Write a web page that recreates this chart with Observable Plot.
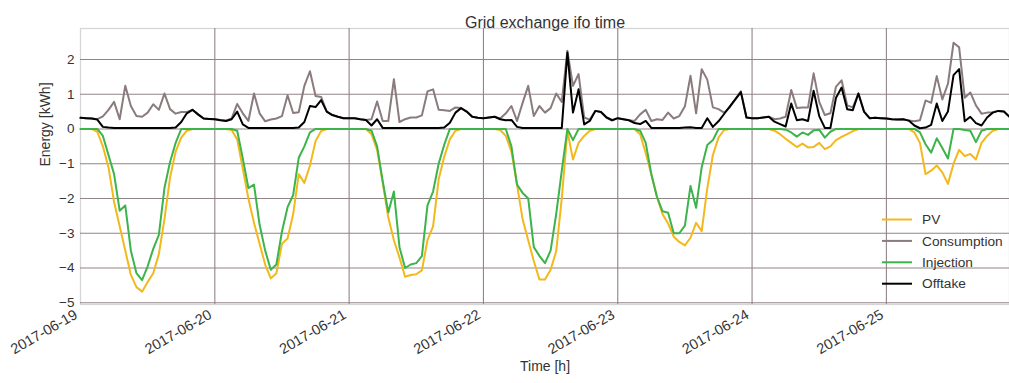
<!DOCTYPE html>
<html>
<head>
<meta charset="utf-8">
<script src="https://cdn.jsdelivr.net/npm/d3@7"></script>
<script src="https://cdn.jsdelivr.net/npm/@observablehq/plot@0.6"></script>
<style>
  body { margin: 0; background: #fff; }
  #chart { width: 1009px; height: 383px; }
</style>
</head>
<body>
<div id="chart"></div>
<script>
// Hourly energy readings (kWh), 2017-06-19 00:00 UTC onward, one row per day.
const pv = [
  0,0,0,-0.08,-0.5,-1.1,-2.1,-2.8,-3.5,-4.2,-4.55,-4.68,-4.4,-4.15,-3.6,-2.6,-1.4,-0.65,-0.25,-0.05,0,0,0,0,
  0,0,0,-0.03,-0.3,-1.15,-2.0,-2.7,-3.3,-3.9,-4.3,-4.15,-3.3,-3.15,-2.45,-1.3,-1.55,-1.05,-0.35,-0.06,0,0,0,0,
  0,0,0,0,-0.15,-0.6,-1.55,-2.55,-3.2,-3.7,-4.25,-4.2,-4.18,-4.07,-3.2,-2.8,-1.45,-0.8,-0.3,-0.05,0,0,0,0,
  0,0,0,-0.03,-0.2,-0.65,-1.6,-2.6,-3.2,-3.8,-4.33,-4.33,-4.05,-3.52,-2.0,-0.06,-0.88,-0.4,-0.2,-0.05,0,0,0,0,
  0,0,0,0,-0.15,-0.7,-1.3,-1.95,-2.45,-2.72,-3.1,-3.25,-3.35,-3.13,-2.7,-2.94,-1.7,-0.75,-0.25,-0.03,0,0,0,0,
  0,0,0,0,-0.05,-0.15,-0.28,-0.4,-0.52,-0.42,-0.53,-0.52,-0.4,-0.58,-0.5,-0.32,-0.23,-0.15,-0.06,0,0,0,0,0,
  0,0,0,0,0,-0.1,-0.4,-1.3,-1.2,-1.05,-1.25,-1.58,-1.0,-0.6,-0.78,-0.72,-0.88,-0.4,-0.2,-0.05,0,0,0
];
const consumption = [
  0.32,0.31,0.30,0.28,0.36,0.55,0.78,0.28,1.24,0.66,0.37,0.35,0.47,0.71,0.55,1.02,0.57,0.44,0.49,0.49,0.55,0.42,0.30,0.29,
  0.28,0.26,0.24,0.30,0.72,0.45,0.23,1.02,0.45,0.22,0.27,0.30,0.37,0.97,0.46,0.48,1.24,1.66,0.95,0.92,0.50,0.40,0.35,0.31,
  0.31,0.31,0.28,0.26,0.28,0.79,0.23,0.23,1.43,0.20,0.28,0.33,0.33,0.39,1.08,1.14,0.55,0.54,0.52,0.62,0.60,0.50,0.35,0.32,
  0.31,0.33,0.35,0.30,0.45,0.66,0.23,0.75,1.24,0.37,0.66,0.47,0.60,1.02,0.78,2.25,1.24,1.58,0.33,0.27,0.52,0.49,0.33,0.25,
  0.31,0.28,0.25,0.23,0.42,0.55,0.23,0.28,0.26,0.47,0.30,0.37,0.65,1.53,0.45,1.72,1.42,0.62,0.57,0.47,0.62,0.85,1.08,0.33,
  0.31,0.31,0.33,0.35,0.28,0.30,0.35,1.12,0.60,0.62,0.62,1.60,0.78,0.40,0.45,1.22,1.40,0.68,0.62,1.02,0.50,0.31,0.32,0.31,
  0.30,0.28,0.27,0.28,0.24,0.22,0.25,0.82,0.75,1.52,0.85,1.30,2.48,2.35,0.90,1.05,0.68,0.44,0.47,0.48,0.52,0.50,0.35
];
const injection = [
  0,0,0,0,-0.2,-0.75,-1.3,-2.35,-2.2,-3.5,-4.15,-4.35,-3.95,-3.45,-3.05,-1.7,-0.95,-0.4,0,0,0,0,0,0,
  0,0,0,0,-0.05,-0.85,-1.7,-1.6,-2.75,-3.5,-4.05,-3.9,-2.95,-2.25,-1.9,-0.83,-0.5,-0.1,0,0,0,0,0,0,
  0,0,0,0,-0.05,-0.5,-1.5,-2.4,-1.8,-3.4,-4.0,-3.9,-3.86,-3.66,-2.2,-1.8,-1.0,-0.45,0,0,0,0,0,0,
  0,0,0,0,0,-0.5,-1.6,-1.84,-2.0,-3.4,-3.65,-3.86,-3.5,-2.45,-1.2,0,-0.32,0,0,0,0,0,0,0,
  0,0,0,0,-0.05,-0.4,-1.3,-1.95,-2.37,-2.41,-3.0,-3.0,-2.78,-1.64,-2.27,-1.1,-0.46,-0.32,0,0,0,0,0,0,
  0,0,0,0,0,0,-0.02,-0.1,-0.22,-0.1,-0.17,-0.04,-0.02,-0.25,-0.08,0,0,0,0,0,0,0,0,0,
  0,0,0,0,0,0,-0.1,-0.44,-0.68,-0.27,-0.55,-0.85,0,0,-0.03,-0.05,-0.38,-0.05,0,0,0,0,0
];
const offtake = [
  0.32,0.31,0.30,0.27,0.06,0.04,0.03,0.03,0.03,0.03,0.03,0.03,0.03,0.03,0.03,0.03,0.03,0.04,0.20,0.45,0.55,0.42,0.30,0.29,
  0.28,0.25,0.23,0.28,0.50,0.13,0.03,0.03,0.03,0.03,0.03,0.03,0.03,0.03,0.03,0.04,0.20,0.66,0.63,0.83,0.50,0.40,0.35,0.31,
  0.31,0.31,0.28,0.26,0.10,0.28,0.03,0.03,0.03,0.03,0.03,0.03,0.03,0.03,0.03,0.03,0.03,0.04,0.18,0.47,0.60,0.50,0.35,0.32,
  0.31,0.33,0.35,0.28,0.25,0.26,0.06,0.03,0.03,0.03,0.03,0.03,0.03,0.03,0.03,2.20,0.47,1.14,0.13,0.23,0.52,0.49,0.33,0.25,
  0.31,0.28,0.25,0.17,0.14,0.23,0.03,0.03,0.03,0.03,0.03,0.03,0.04,0.05,0.03,0.03,0.31,0.06,0.22,0.43,0.64,0.85,1.06,0.33,
  0.31,0.31,0.33,0.35,0.21,0.14,0.07,0.73,0.25,0.28,0.23,1.10,0.37,0.03,0.03,0.90,1.19,0.57,0.54,1.02,0.50,0.31,0.32,0.31,
  0.30,0.28,0.27,0.28,0.24,0.10,0.02,0.04,0.12,0.73,0.23,0.50,1.55,1.72,0.22,0.35,0.17,0.10,0.33,0.47,0.52,0.50,0.35
];

const dayLabels = ["2017-06-19","2017-06-20","2017-06-21","2017-06-22","2017-06-23","2017-06-24","2017-06-25"];
const yTicks = [-5,-4,-3,-2,-1,0,1,2];
const seriesNames = ["PV","Consumption","Injection","Offtake"];
const seriesColors = ["#f2b81c","#8a7b7d","#3cb44b","#000000"];

const FONT = "'Liberation Sans', Arial, sans-serif";
const GRID = "#928486";
const TEXT = "#333333";

const start = new Date(dayLabels[0] + "T00:00:00Z");
const times = pv.map((_, i) => new Date(+start + i * 3600e3));
const dayTicks = dayLabels.map(s => new Date(s + "T00:00:00Z"));

const seriesValues = [pv, consumption, injection, offtake];
const lines = seriesNames.map((name, k) =>
  Plot.lineY(seriesValues[k].map((v, i) => ({t: times[i], v})), {
    x: "t", y: "v", stroke: seriesColors[k], strokeWidth: 2,
    strokeLinejoin: "round", strokeLinecap: "round"
  })
);

const chart = Plot.plot({
  width: 1009,
  height: 383,
  marginTop: 28,
  marginRight: 0,
  marginBottom: 79,
  marginLeft: 80,
  style: {fontFamily: FONT, background: "#fff", color: TEXT, overflow: "visible"},
  x: {type: "utc", domain: [times[0], times[times.length - 1]], axis: null},
  y: {domain: [-5.05, 2.89], axis: null},
  marks: [
    Plot.frame({stroke: "#d6d6d6", strokeWidth: 1.3}),
    Plot.gridX(dayTicks.slice(1), {stroke: GRID, strokeOpacity: 1, strokeWidth: 1.1}),
    Plot.gridY(yTicks, {stroke: GRID, strokeOpacity: 1, strokeWidth: 1.1}),
    ...lines,
    Plot.axisY(yTicks, {
      anchor: "left", tickSize: 0, tickPadding: 6, fontSize: 13.5, label: null,
      tickFormat: d3.format("d")
    }),
    Plot.text(dayTicks, {
      x: d => d, frameAnchor: "bottom", text: (d, i) => dayLabels[i],
      rotate: -30, textAnchor: "end", dx: -2, dy: 13, fontSize: 14.5, fill: TEXT
    }),
    Plot.text(["Grid exchange ifo time"], {frameAnchor: "top", dy: -12, fontSize: 16, fill: TEXT}),
    Plot.text(["Energy [kWh]"], {frameAnchor: "left", rotate: -90, dx: -35, fontSize: 14, fill: TEXT}),
    Plot.text(["Time [h]"], {frameAnchor: "bottom", dy: 66, fontSize: 14, fill: TEXT})
  ]
});

// Legend inside the lower-right corner of the plot area
const legend = d3.select(chart).append("g")
  .attr("transform", "translate(882,219.5)")
  .attr("font-family", FONT)
  .attr("font-size", 13.7)
  .attr("text-anchor", "start")
  .attr("fill", TEXT);
seriesNames.forEach((name, k) => {
  const y = k * 21.4;
  legend.append("line")
    .attr("x1", 0).attr("x2", 30).attr("y1", y).attr("y2", y)
    .attr("stroke", seriesColors[k]).attr("stroke-width", 2);
  legend.append("text")
    .attr("x", 40).attr("y", y).attr("dy", "0.35em")
    .text(name);
});

document.getElementById("chart").appendChild(chart);
</script>
</body>
</html>
